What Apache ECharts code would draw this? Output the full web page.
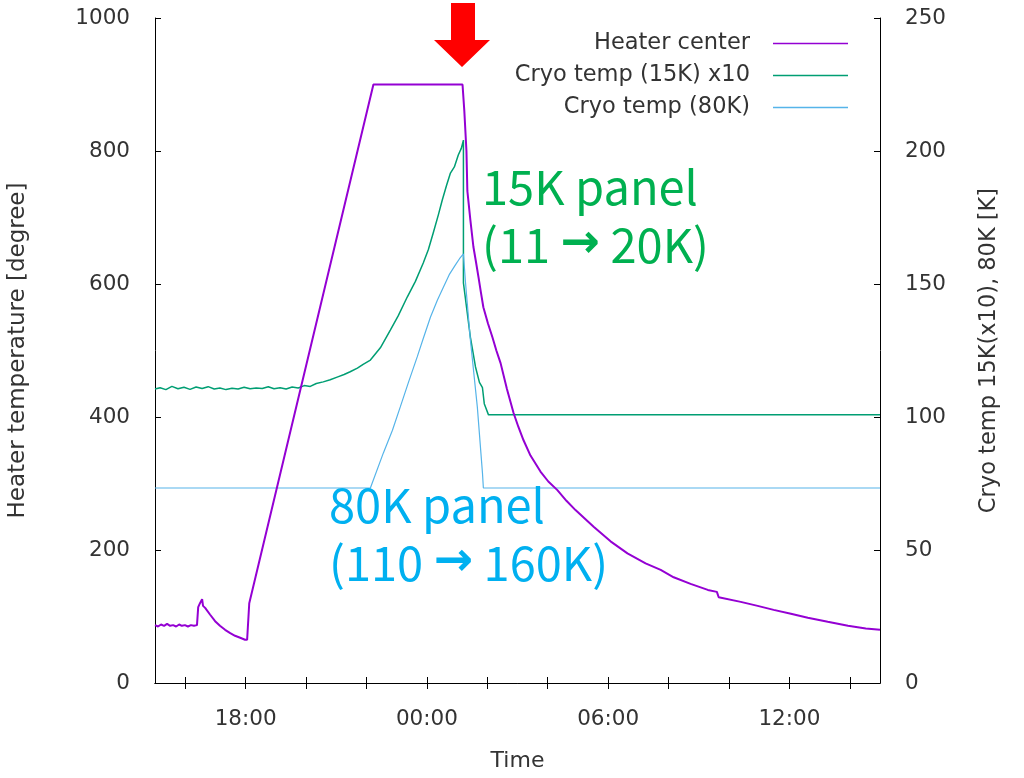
<!DOCTYPE html>
<html>
<head>
<meta charset="utf-8">
<script src="https://cdn.jsdelivr.net/npm/echarts@6/dist/echarts.min.js"></script>
<style>
html,body{margin:0;padding:0;background:#fff;}
#chart{width:1024px;height:778px;}
</style>
</head>
<body>
<div id="chart"></div>
<script>
// Time in hours since midnight of the first day (15.00 = 15:00, 39.00 = 15:00 next day)
const heaterTime = [15.00,15.10,15.20,15.30,15.40,15.50,15.60,15.70,15.80,15.89,15.99,16.09,16.19,16.29,16.39,16.43,16.49,16.56,16.59,16.66,16.82,16.99,17.15,17.32,17.49,17.65,17.82,17.98,18.05,18.12,22.23,25.18,25.24,25.31,25.34,25.44,25.54,25.63,25.71,25.79,25.87,26.02,26.17,26.30,26.44,26.65,26.87,27.03,27.20,27.43,27.76,28.02,28.32,28.62,28.92,29.52,30.08,30.64,31.24,31.74,32.17,32.73,33.30,33.60,33.66,34.39,34.95,35.48,36.05,36.61,37.27,37.94,38.53,39.00];
const heaterTemp = [87,85,88,86,89,86,87,85,88,86,87,85,87,86,87,114,120,126,116,113,103,93,86,80,75,71,68,65,65,120,900,900,860,800,740,696,656,632,610,587,565,541,520,500,481,442,406,385,365,342,318,303,290,274,260,235,213,195,180,170,159,149,140,137,129,122,116,110,104,98,92,86,82,80];

const cryo15Time = [15.00,15.17,15.36,15.56,15.76,15.96,16.16,16.36,16.56,16.76,16.96,17.15,17.35,17.55,17.75,17.95,18.15,18.35,18.55,18.75,18.94,19.14,19.34,19.54,19.74,19.94,20.14,20.34,20.57,20.80,21.03,21.26,21.46,21.70,21.89,22.13,22.46,22.79,23.05,23.35,23.62,23.88,24.05,24.21,24.38,24.51,24.65,24.78,24.91,25.04,25.14,25.21,25.21,25.44,25.61,25.74,25.84,25.90,26.04,39.00];
const cryo15Temp = [110.5,111,110.3,111.5,110.6,111.2,110.4,111.3,110.7,111.4,110.5,110.9,110.3,110.8,110.5,111.2,110.6,110.9,110.7,111.4,110.6,111,110.5,111.3,110.9,111.8,111.5,112.6,113.2,114,115,116,117,118.4,119.8,121.4,126,132.7,138,145.1,151,157.9,163,169.2,176,181.6,187,191.7,194,198.5,201,204.1,150.4,130,118.8,113,111,105,100.8,100.8];

const cryo80Time = [15.00,22.13,22.56,22.86,23.12,23.39,23.68,23.88,24.12,24.35,24.55,24.74,24.94,25.08,25.21,25.28,25.44,25.67,25.84,25.87,39.00];
const cryo80Temp = [73.3,73.3,86.5,95,103.8,113,122.6,129.5,137.6,144,148.9,153.5,157.1,159.5,161.3,150.4,129,103.8,79,73.3,73.3];

const xTickHours = [16,18,20,22,24,26,28,30,32,34,36,38];
const xLabelHours = [18,24,30,36];

const seriesNames = ['Heater center','Cryo temp (15K) x10','Cryo temp (80K)'];
const seriesColors = ['#9400d3','#009e73','#56b4e9'];

function pairs(t, v){ return t.map((x,i)=>[x, v[i]]); }
function hourLabel(h){ const hh = Math.round(h) % 24; return (hh<10?'0':'') + hh + ':00'; }

const FONT = '"DejaVu Sans", sans-serif';
const chart = echarts.init(document.getElementById('chart'));
const tickStyle = {show:true, inside:true, length:6, lineStyle:{color:'#000', width:1}};
const lineStyleAx = {show:true, lineStyle:{color:'#000', width:1}};
const labelBase = {fontFamily:FONT, fontSize:21.5, color:'#333'};
const annoFont = '"Noto Sans CJK JP", "Noto Sans", sans-serif';

chart.setOption({
  animation:false,
  backgroundColor:'#fff',
  grid:{left:155, right:144, top:18, bottom:95, containLabel:false, outerBoundsMode:'none'},
  legend:{
    orient:'vertical', right:171, top:27, align:'right',
    itemWidth:75, itemHeight:14, itemGap:9,
    textStyle:{fontFamily:FONT, fontSize:22.5, color:'#333', padding:[0,18,0,0]},
    data:seriesNames.map(n=>({name:n, icon:'path://M0,0 L100,0 L100,2 L0,2 Z'}))
  },
  xAxis:[{
    type:'value', min:15, max:39, position:'bottom',
    name:'Time', nameLocation:'middle', nameGap:67,
    nameTextStyle:Object.assign({}, labelBase, {fontSize:22}),
    axisLine:lineStyleAx,
    axisTick:Object.assign({}, tickStyle, {customValues:xTickHours}),
    axisLabel:Object.assign({customValues:xLabelHours, formatter:hourLabel, margin:25}, labelBase),
    splitLine:{show:false}
  },{
    type:'value', min:15, max:39, position:'top',
    axisLine:lineStyleAx,
    axisTick:Object.assign({}, tickStyle, {customValues:xTickHours}),
    axisLabel:{show:false}, splitLine:{show:false}
  }],
  yAxis:[{
    type:'value', min:0, max:1000, interval:200, position:'left',
    name:'Heater temperature [degree]', nameLocation:'middle', nameGap:125, nameRotate:90,
    nameTextStyle:Object.assign({}, labelBase, {fontSize:23}),
    axisLine:lineStyleAx, axisTick:tickStyle,
    axisLabel:Object.assign({margin:25, formatter:v=>String(v)}, labelBase),
    splitLine:{show:false}
  },{
    type:'value', min:0, max:250, interval:50, position:'right',
    name:'Cryo temp 15K(x10), 80K [K]', nameLocation:'middle', nameGap:98, nameRotate:90,
    nameTextStyle:Object.assign({}, labelBase, {fontSize:22.5}),
    axisLine:lineStyleAx, axisTick:tickStyle,
    axisLabel:Object.assign({margin:25, formatter:v=>String(v)}, labelBase),
    splitLine:{show:false}
  }],
  series:[{
    name:seriesNames[0], type:'line', xAxisIndex:0, yAxisIndex:0, showSymbol:false, symbol:'none',
    data:pairs(heaterTime, heaterTemp), lineStyle:{color:seriesColors[0], width:2}, itemStyle:{color:seriesColors[0]}, z:3
  },{
    name:seriesNames[1], type:'line', xAxisIndex:0, yAxisIndex:1, showSymbol:false, symbol:'none',
    data:pairs(cryo15Time, cryo15Temp), lineStyle:{color:seriesColors[1], width:1.5}, itemStyle:{color:seriesColors[1]}, z:2
  },{
    name:seriesNames[2], type:'line', xAxisIndex:0, yAxisIndex:1, showSymbol:false, symbol:'none',
    data:pairs(cryo80Time, cryo80Temp), lineStyle:{color:seriesColors[2], width:1.2}, itemStyle:{color:seriesColors[2]}, z:2
  }],
  graphic:[
    {type:'polygon', shape:{points:[[451,3],[475,3],[475,40],[490,40],[462,67],[434,40],[451,40]]}, style:{fill:'#ff0000'}, z:10},
    {type:'text', left:482, top:158, style:{
      text:'15K panel\n(11 {a|→} 20K)', fill:'#00b050', font:'47px ' + annoFont, lineHeight:58,
      rich:{a:{fontFamily:'"DejaVu Sans"', fontWeight:'bold', fontSize:47, fill:'#00b050', lineHeight:58}}
    }, z:10},
    {type:'text', left:329, top:476, style:{
      text:'80K panel\n(110 {a|→} 160K)', fill:'#00b0f0', font:'47px ' + annoFont, lineHeight:58,
      rich:{a:{fontFamily:'"DejaVu Sans"', fontWeight:'bold', fontSize:47, fill:'#00b0f0', lineHeight:58}}
    }, z:10}
  ]
});
</script>
</body>
</html>
